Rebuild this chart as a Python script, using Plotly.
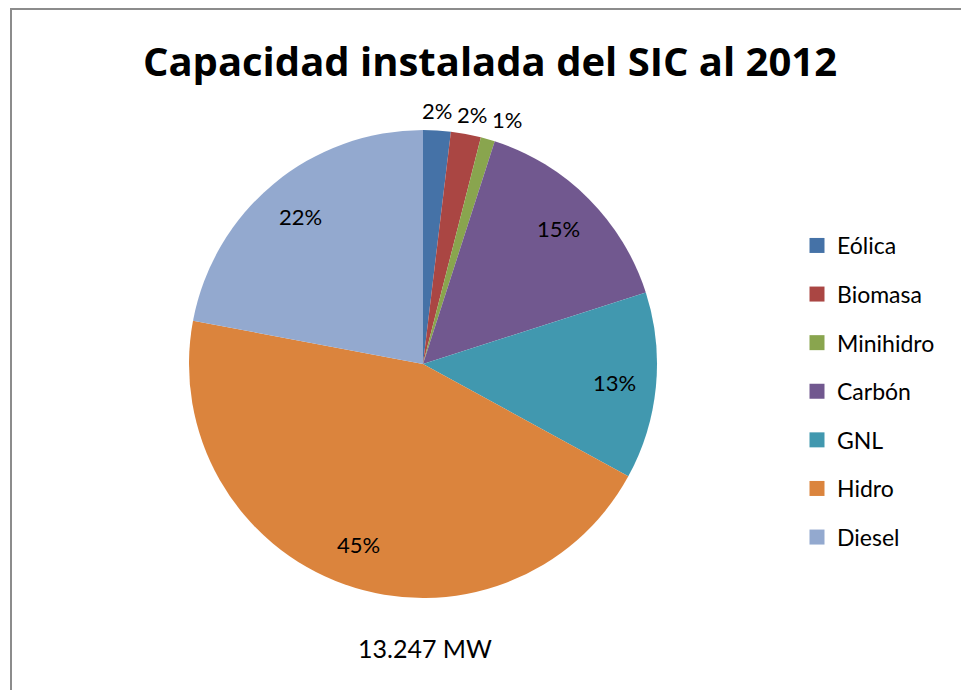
import math
import plotly.graph_objects as go

# ---------------- data ----------------
categories = ["Eólica", "Biomasa", "Minihidro", "Carbón", "GNL", "Hidro", "Diesel"]
capacity_mw = [252, 275, 130, 2000, 1710, 5960, 2920]
colors = ["#4572A7", "#AA4643", "#89A54E", "#71588F", "#4198AF", "#DB843D", "#93A9CF"]
chart_title = "Capacidad instalada del SIC al 2012"
total_label = "13.247 MW"

# ---------------- layout geometry ----------------
W, H = 961, 690
cx, cy, R = 423, 364, 234
FONT = "Lato, Calibri, Carlito, sans-serif"
TITLE_FONT = "Open Sans, Calibri, sans-serif"

fig = go.Figure()
fig.add_trace(go.Pie(
    labels=categories, values=capacity_mw, sort=False, direction="clockwise",
    rotation=0, marker=dict(colors=colors, line=dict(width=0)),
    textinfo="none", hoverinfo="label+value+percent", showlegend=False,
    domain=dict(x=[(cx - R) / W, (cx + R) / W], y=[1 - (cy + R) / H, 1 - (cy - R) / H]),
))

# legend entries (square markers) as empty scatter traces
for name, col in zip(categories, colors):
    fig.add_trace(go.Scatter(
        x=[None], y=[None], mode="markers", name=name, legendgroup=name,
        marker=dict(symbol="square", size=15, color=col), showlegend=True,
    ))

# percentage labels, placed from the data
annotations = []
total = sum(capacity_mw)
cum = 0.0
last_right = -1e9
for v in capacity_mw:
    frac = v / total
    mid = (cum + frac / 2) * 2 * math.pi
    cum += frac
    txt = f"{round(frac * 100)}%"
    if frac < 0.03:
        r = R + 4
        px = cx + r * math.sin(mid)
        py = cy - r * math.cos(mid)
        w = 33
        if px - w / 2 < last_right + 2:
            px = last_right + 2 + w / 2
        last_right = px + w / 2
        annotations.append(dict(x=px / W, y=1 - py / H, xref="paper", yref="paper",
                                text=txt, showarrow=False, xanchor="center", yanchor="bottom",
                                font=dict(family=FONT, size=22, color="#000")))
    else:
        r = 0.82 * R
        px = cx + r * math.sin(mid)
        py = cy - r * math.cos(mid)
        annotations.append(dict(x=px / W, y=1 - py / H, xref="paper", yref="paper",
                                text=txt, showarrow=False, xanchor="center", yanchor="middle",
                                font=dict(family=FONT, size=22, color="#000")))

annotations.append(dict(x=425 / W, y=1 - 648 / H, xref="paper", yref="paper",
                        text=total_label, showarrow=False, xanchor="center", yanchor="middle",
                        font=dict(family=FONT, size=25, color="#000")))

fig.update_layout(
    width=W, height=H, autosize=False,
    margin=dict(l=0, r=0, t=0, b=0),
    paper_bgcolor="white", plot_bgcolor="white",
    title=dict(text=f"<b>{chart_title}</b>", x=490 / W, xanchor="center",
               y=1 - 62 / H, yanchor="middle", font=dict(family=TITLE_FONT, size=40, color="#000")),
    xaxis=dict(visible=False), yaxis=dict(visible=False),
    legend=dict(x=797 / W, xanchor="left", y=1 - 224 / H, yanchor="top",
                font=dict(family=FONT, size=23, color="#000"), tracegroupgap=15.7,
                bgcolor="rgba(0,0,0,0)"),
    annotations=annotations,
    shapes=[dict(type="rect", xref="paper", yref="paper", x0=11 / W, x1=1.05,
                 y0=-0.05, y1=1 - 9 / H, line=dict(color="#8c8c8c", width=2))],
)

fig.write_html("out.html", config={"displayModeBar": False},
               post_script="document.body.style.margin='0';")
